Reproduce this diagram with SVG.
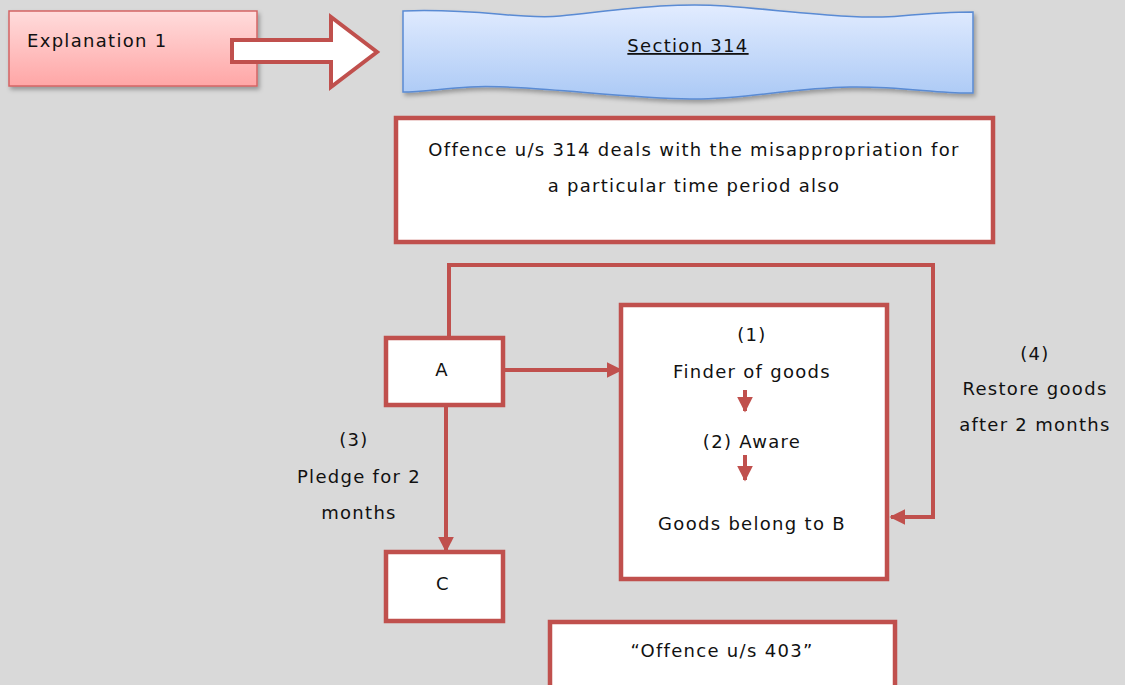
<svg xmlns="http://www.w3.org/2000/svg" width="1125" height="685" viewBox="0 0 1125 685">
  <defs>
    <linearGradient id="pinkFill" x1="0" y1="0" x2="0" y2="1">
      <stop offset="0" stop-color="#ffdcdc"/>
      <stop offset="1" stop-color="#ffa6a6"/>
    </linearGradient>
    <linearGradient id="blueFill" x1="0" y1="0" x2="0" y2="1">
      <stop offset="0" stop-color="#e2ecff"/>
      <stop offset="1" stop-color="#abc9f5"/>
    </linearGradient>
    <filter id="shadow" x="-10%" y="-10%" width="130%" height="140%">
      <feDropShadow dx="2" dy="3" stdDeviation="2" flood-color="#000" flood-opacity="0.3"/>
    </filter>
    <marker id="arrow" viewBox="0 0 10 10" refX="9" refY="5" markerWidth="4" markerHeight="4" orient="auto" markerUnits="strokeWidth">
      <path d="M0,0 L10,5 L0,10 z" fill="#c0504d"/>
    </marker>
  </defs>
  <style>
    .box { fill: #ffffff; stroke: #c0504d; stroke-width: 4.5; }
    .line { fill: none; stroke: #c0504d; stroke-width: 4; }
    .txt { font-family: "DejaVu Sans", "Open Sans", sans-serif; font-size: 18px; letter-spacing: 1.3px; fill: #111111; text-anchor: middle; }
  </style>

  <rect x="0" y="0" width="1125" height="685" fill="#d9d9d9"/>

  <!-- Explanation label -->
  <g id="explanation">
    <rect x="9" y="11" width="248" height="75" fill="url(#pinkFill)" stroke="#d46464" stroke-width="1.5" filter="url(#shadow)"/>
    <text x="27" y="47" class="txt" style="text-anchor:start">Explanation 1</text>
  </g>

  <!-- Block arrow -->
  <g id="block-arrow">
    <path d="M232,40 L331,40 L331,17 L377,52 L331,87 L331,62 L232,62 Z" fill="#ffffff" stroke="#c0504d" stroke-width="4" stroke-linejoin="miter"/>
  </g>

  <!-- Section banner -->
  <g id="section-banner">
    <path d="M403,11 C480,8 520,20 560,16 C620,10 670,2 725,6 C800,12 860,20 900,16 C935,13 955,12 973,12 L973,93 C940,94 900,86 850,87 C790,88 740,100 690,99 C620,98 520,84 470,87 C440,89 420,92 403,92 Z" fill="url(#blueFill)" stroke="#5a8bd4" stroke-width="1.5" filter="url(#shadow)"/>
    <text x="688" y="52" class="txt" text-decoration="underline">Section 314</text>
  </g>

  <!-- Statement box -->
  <g id="statement">
    <rect x="396" y="118" width="597" height="124" class="box"/>
    <text x="694" y="156" class="txt">Offence u/s 314 deals with the misappropriation for</text>
    <text x="694" y="192" class="txt">a particular time period also</text>
  </g>

  <!-- Connectors -->
  <g id="connectors">
    <path d="M449,337 L449,265 L933,265 L933,517 L891,517" class="line" marker-end="url(#arrow)"/>
    <path d="M503,370 L621,370" class="line" marker-end="url(#arrow)"/>
    <path d="M446,405 L446,551" class="line" marker-end="url(#arrow)"/>
  </g>

  <!-- Node A -->
  <g id="node-a">
    <rect x="386" y="338" width="117" height="67" class="box"/>
    <text x="442" y="376" class="txt">A</text>
  </g>

  <!-- Finder box -->
  <g id="finder">
    <rect x="621" y="305" width="266" height="274" class="box"/>
    <text x="752" y="341" class="txt">(1)</text>
    <text x="752" y="378" class="txt">Finder of goods</text>
    <path d="M745,390 L745,411" class="line" stroke-width="3.5" marker-end="url(#arrow)"/>
    <text x="752" y="448" class="txt">(2)  Aware</text>
    <path d="M745,455 L745,480" class="line" stroke-width="3.5" marker-end="url(#arrow)"/>
    <text x="752" y="530" class="txt">Goods belong to B</text>
  </g>

  <!-- Node C -->
  <g id="node-c">
    <rect x="386" y="552" width="117" height="69" class="box"/>
    <text x="443" y="590" class="txt">C</text>
  </g>

  <!-- Pledge label -->
  <g id="label-pledge">
    <text x="354" y="446" class="txt">(3)</text>
    <text x="359" y="483" class="txt">Pledge for 2</text>
    <text x="359" y="519" class="txt">months</text>
  </g>

  <!-- Restore label -->
  <g id="label-restore">
    <text x="1035" y="360" class="txt">(4)</text>
    <text x="1035" y="395" class="txt">Restore goods</text>
    <text x="1035" y="431" class="txt">after 2 months</text>
  </g>

  <!-- Offence 403 box -->
  <g id="offence-403">
    <rect x="550" y="622" width="345" height="80" class="box"/>
    <text x="722" y="657" class="txt">“Offence u/s 403”</text>
  </g>
</svg>
